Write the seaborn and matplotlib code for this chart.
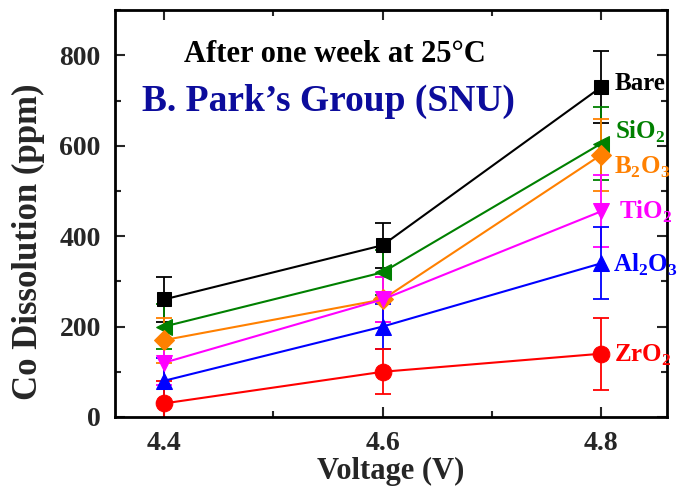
import numpy as np
import pandas as pd
import matplotlib
matplotlib.use("Agg")
import matplotlib.pyplot as plt
from matplotlib.ticker import MultipleLocator
import seaborn as sns

sns.set_theme(style="white")
plt.rcParams["font.family"] = ["Liberation Serif", "DejaVu Serif"]
plt.rcParams["font.weight"] = "bold"
plt.rcParams["mathtext.fontset"] = "custom"
plt.rcParams["mathtext.rm"] = "Liberation Serif:bold"
plt.rcParams["mathtext.bf"] = "Liberation Serif:bold"

voltage = [4.4, 4.6, 4.8]
bare = [260, 380, 730]
sio2 = [200, 320, 605]
b2o3 = [170, 260, 580]
tio2 = [120, 260, 455]
al2o3 = [80, 200, 340]
zro2 = [30, 100, 140]
err = [50, 50, 80]

names = ["Bare", "SiO2", "B2O3", "TiO2", "Al2O3", "ZrO2"]
labels = ["Bare", r"SiO$_2$", r"B$_2$O$_3$", r"TiO$_2$", r"Al$_2$O$_3$", r"ZrO$_2$"]
series = [bare, sio2, b2o3, tio2, al2o3, zro2]
colors = ["black", "green", "#ff8000", "magenta", "blue", "red"]
markers = ["s", "<", "D", "v", "^", "o"]
msizes = [10, 11, 10, 12, 12, 12]

df = pd.DataFrame({
    "Voltage": np.tile(voltage, len(names)),
    "Co": np.concatenate(series),
    "Coating": np.repeat(names, len(voltage)),
})

fig = plt.figure(figsize=(6.79, 4.86), dpi=100)
ax = fig.add_axes([0.169, 0.142, 0.813, 0.837])

for name, vals, c, m, ms in zip(names, series, colors, markers, msizes):
    ax.errorbar(voltage, vals, yerr=err, fmt="none", ecolor=c, elinewidth=1.3,
                capsize=6, capthick=1.3, zorder=2)
    sub = df[df["Coating"] == name]
    sns.lineplot(data=sub, x="Voltage", y="Co", color=c, marker=m, markersize=ms,
                 markeredgecolor=c, linewidth=1.5, ax=ax, zorder=3)

# labels next to the 4.8 V points
label_pos = [(4.812, 737), (4.813, 630), (4.812, 552), (4.816, 453), (4.811, 336), (4.812, 137)]
for lab, (x, y), c in zip(labels, label_pos, colors):
    ax.text(x, y, lab, color=c, fontsize=18, fontweight="bold", va="center", ha="left")

ax.text(4.418, 785, "After one week at 25°C", fontsize=22, fontweight="bold", color="black")
ax.text(4.380, 678, "B. Park’s Group (SNU)", fontsize=27, fontweight="bold", color="#0c0c9c")

ax.set_xlim(4.355, 4.86)
ax.set_ylim(0, 900)
ax.xaxis.set_minor_locator(MultipleLocator(0.1))
ax.yaxis.set_minor_locator(MultipleLocator(100))
ax.set_xticks([4.4, 4.6, 4.8])
ax.set_xticklabels(["4.4", "4.6", "4.8"])
ax.set_yticks([0, 200, 400, 600, 800])
ax.tick_params(which="both", direction="in", top=True, right=True, bottom=True, left=True,
               labelsize=20, width=1.5, pad=10)
ax.tick_params(which="major", length=7)
ax.tick_params(which="minor", length=4)
for lab in ax.get_xticklabels() + ax.get_yticklabels():
    lab.set_fontweight("bold")
for s in ax.spines.values():
    s.set_linewidth(2)
    s.set_color("black")

ax.set_xlabel("Voltage (V)", fontsize=22, fontweight="bold", labelpad=1)
ax.set_ylabel("Co Dissolution (ppm)", fontsize=25, fontweight="bold")
ax.yaxis.set_label_coords(-0.127, 0.43)
if ax.get_legend() is not None:
    ax.get_legend().remove()

fig.savefig("out.png", dpi=100)
